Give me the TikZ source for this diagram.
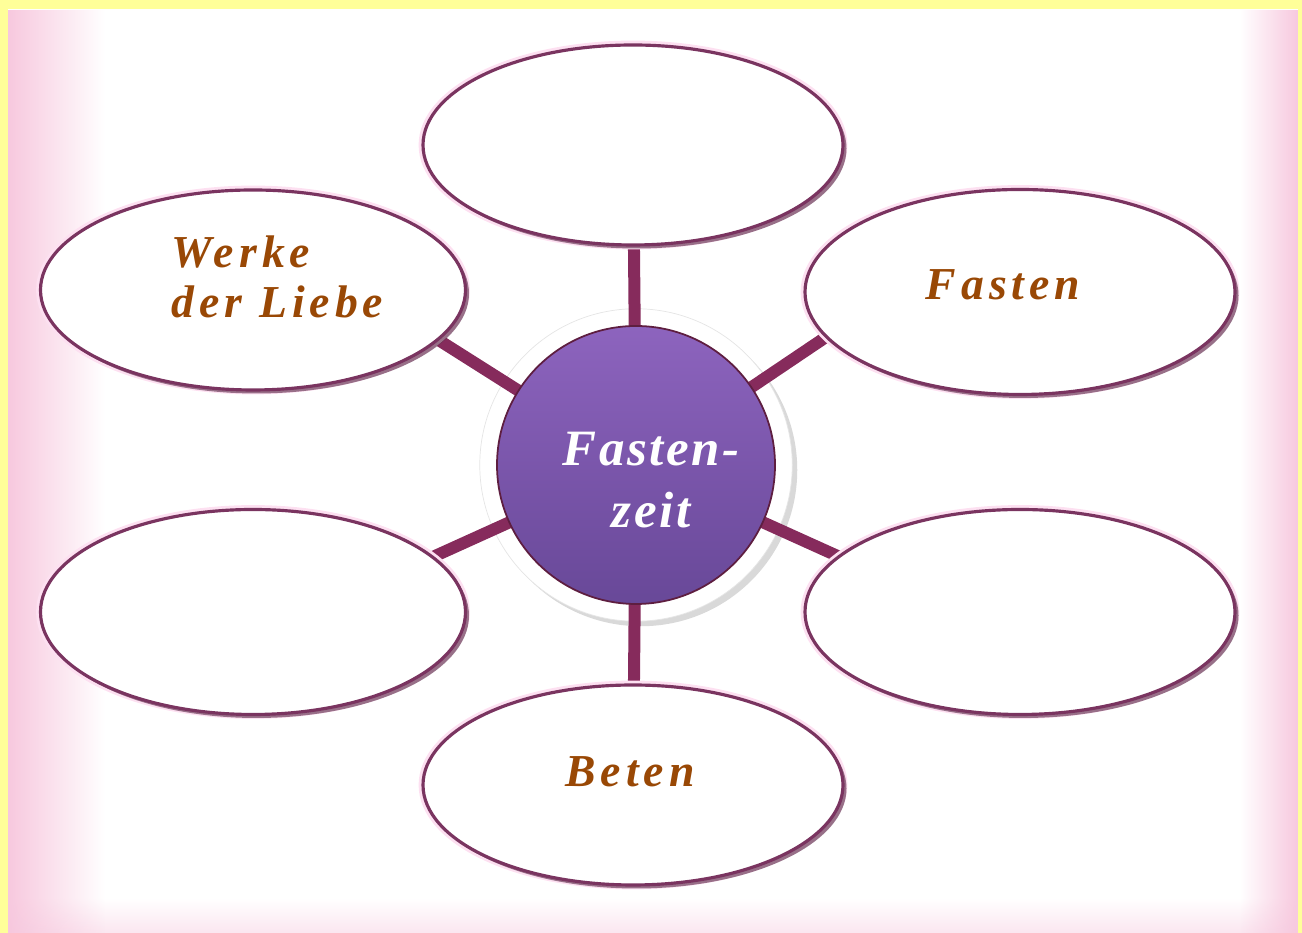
\documentclass[tikz,border=0pt]{standalone}
\usepackage{fontspec}
\setmainfont{Liberation Serif}
\usetikzlibrary{shapes.geometric, shadows, backgrounds, fadings, positioning}

\definecolor{frame}{RGB}{255,255,153}
\definecolor{blush}{RGB}{247,200,222}
\definecolor{plum}{RGB}{134,43,92}
\definecolor{rim}{RGB}{122,52,96}
\definecolor{rust}{RGB}{153,72,5}
\definecolor{violetA}{RGB}{141,100,190}
\definecolor{violetB}{RGB}{104,72,152}

\tikzfading[name = fade right, left color = transparent!0, right color = transparent!100]
\tikzfading[name = fade left, left color = transparent!100, right color = transparent!0]
\tikzfading[name = fade up, bottom color = transparent!0, top color = transparent!100]

\pgfdeclarelayer{links}
\pgfsetlayers{background,links,main}

\tikzstyle{bubble} = [ellipse, minimum width = 8.5cm, minimum height = 4cm, inner sep = 0,
outer sep = 0, draw = rim, line width = 1.8pt, fill = white,
preaction = {draw = magenta!12, line width = 5pt},
drop shadow = {shadow xshift = 0.07cm, shadow yshift = -0.07cm, fill = rim!70!black, opacity = 0.6}]
\tikzstyle{word} = [text = rust, align = left, inner sep = 0,
font = \bfseries\itshape\fontsize{26}{28}\selectfont\addfontfeatures{LetterSpace=11}]
\tikzstyle{core} = [circle, minimum size = 5.56cm, inner sep = 0, outer sep = 0, draw = plum!70!black,
line width = 1pt, top color = violetA, bottom color = violetB]
\tikzstyle{inscription} = [text = white, align = center, inner sep = 0,
font = \bfseries\itshape\fontsize{29}{35}\selectfont\addfontfeatures{LetterSpace=5}]
\tikzstyle{link} = [line width = 0.24cm, plum]

\begin{document}
\begin{tikzpicture}

    \useasboundingbox (0,0) rectangle (26.04,18.66);

    \begin{scope}[on background layer]
        % pink fading edges and yellow frame
        \fill[blush!45, path fading = fade up] (0.16,0) rectangle (25.96,0.7);
        \fill[blush, path fading = fade right] (0.16,0) rectangle (2.1,18.48);
        \fill[blush, path fading = fade left] (24.8,0) rectangle (25.96,18.48);
        \fill[frame] (0,0) rectangle (0.16,18.66);
        \fill[frame] (0,18.48) rectangle (26.04,18.66);
        \fill[frame] (25.96,0) rectangle (26.04,18.66);

        \node (ring) [circle, minimum size = 6.25cm, fill = white, draw = gray!20,
        drop shadow = {shadow xshift = 0.1cm, shadow yshift = -0.1cm, opacity = 0.3}] at (12.72,9.36) {};
    \end{scope}

    \node (top) [bubble, minimum width = 8.4cm] at (12.66,15.76) {};
    \node (ul) [bubble] at (5.06,12.86) {};
    \node (ur) [bubble, minimum width = 8.6cm, minimum height = 4.1cm] at (20.40,12.82) {};
    \node (ll) [bubble, minimum height = 4.1cm] at (5.06,6.42) {};
    \node (lr) [bubble, minimum width = 8.6cm, minimum height = 4.1cm] at (20.40,6.42) {};
    \node (bottom) [bubble, minimum width = 8.4cm] at (12.66,2.96) {};

    \node (hub) [core] at (12.72,9.36) {};
    \node (title) [inscription] at (13.02,9.06) {Fasten-\\zeit};

    \node (werke) [word] at (5.55,13.12) {Werke\\der Liebe};
    \node (fasten) [word] at (20.06,12.96) {Fasten};
    \node (beten) [word] at (12.6,3.22) {Beten};

    \begin{pgfonlayer}{links}
        \draw[link] (hub) -- (top);
        \draw[link] (hub) -- (bottom);
        \draw[link] (hub) -- (ul.-15);
        \draw[link] (hub) -- (ur.193);
        \draw[link] (hub) -- (ll.17);
        \draw[link] (hub) -- (lr.163);
    \end{pgfonlayer}

\end{tikzpicture}
\end{document}
